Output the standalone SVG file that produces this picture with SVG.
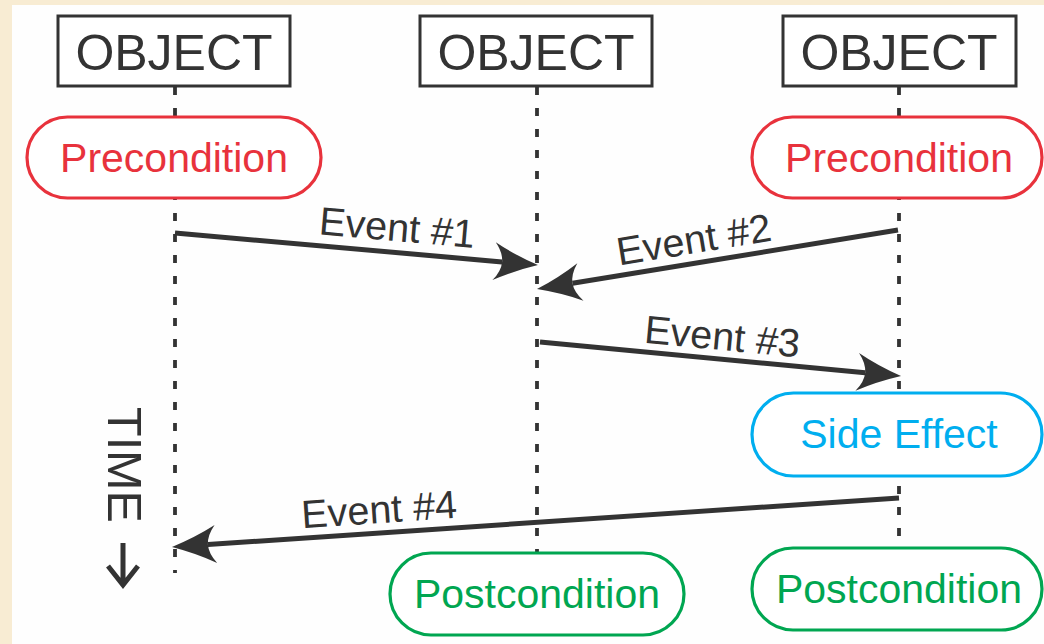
<svg xmlns="http://www.w3.org/2000/svg" width="1044" height="644" viewBox="0 0 1044 644">
  <defs>
    <style>
      .obj rect { fill: #ffffff; stroke: #333333; stroke-width: 3; }
      .obj text { font-family: "Liberation Sans", Arial, sans-serif; font-size: 50px; fill: #333333; text-anchor: middle; }
      .pill rect { fill: #ffffff; stroke-width: 3.2; }
      .pill text { font-family: "Liberation Sans", Arial, sans-serif; font-size: 41px; text-anchor: middle; }
      .pre rect { stroke: #e8323c; }
      .pre text { fill: #e8323c; }
      .side rect { stroke: #00aeef; }
      .side text { fill: #00aeef; }
      .post rect { stroke: #00a651; }
      .post text { fill: #00a651; }
      .life { stroke: #333333; stroke-width: 3.8; stroke-dasharray: 8 13; fill: none; }
      .msg { stroke: #333333; stroke-width: 5; fill: none; marker-end: url(#head); }
      .lbl { font-family: "Liberation Sans", Arial, sans-serif; font-size: 39.5px; fill: #333333; text-anchor: middle; }
    </style>
    <marker id="head" markerUnits="userSpaceOnUse" refX="0" refY="0" orient="auto" overflow="visible">
      <path d="M36,0 Q12,-8 -8,-19 Q0,-9 0,0 Q0,9 -8,19 Q12,8 36,0 Z" fill="#333333"/>
    </marker>
  </defs>

  <!-- paper and panel -->
  <rect x="0" y="0" width="1044" height="644" fill="#f8ecd3"/>
  <rect x="12" y="5" width="1032" height="639" fill="#fefefe"/>

  <!-- lifelines -->
  <g id="lifelines">
    <line class="life" x1="175" y1="87" x2="175" y2="573"/>
    <line class="life" x1="537" y1="87" x2="537" y2="553"/>
    <line class="life" x1="899" y1="87" x2="899" y2="548"/>
  </g>

  <!-- objects -->
  <g id="object-left" class="obj">
    <rect x="58" y="16" width="232" height="70"/>
    <text x="174" y="70">OBJECT</text>
  </g>
  <g id="object-middle" class="obj">
    <rect x="420" y="16" width="232" height="70"/>
    <text x="536" y="70">OBJECT</text>
  </g>
  <g id="object-right" class="obj">
    <rect x="783" y="16" width="233" height="70"/>
    <text x="899" y="70">OBJECT</text>
  </g>

  <!-- states on the lifelines -->
  <g id="precondition-left" class="pill pre">
    <rect x="27" y="117" width="294" height="81" rx="40.5"/>
    <text x="174" y="172">Precondition</text>
  </g>
  <g id="precondition-right" class="pill pre">
    <rect x="752" y="117" width="290" height="81" rx="40.5"/>
    <text x="899" y="172">Precondition</text>
  </g>
  <g id="side-effect" class="pill side">
    <rect x="752" y="393" width="290" height="83" rx="41.5"/>
    <text x="899" y="448">Side Effect</text>
  </g>
  <g id="postcondition-middle" class="pill post">
    <rect x="390" y="553" width="294" height="82" rx="41"/>
    <text x="537" y="608">Postcondition</text>
  </g>
  <g id="postcondition-right" class="pill post">
    <rect x="752" y="548" width="290" height="82" rx="41"/>
    <text x="899" y="603">Postcondition</text>
  </g>

  <!-- messages -->
  <g id="connectors">
    <line class="msg" x1="175" y1="233" x2="502.1" y2="261.9"/>
    <line class="msg" x1="898" y1="230" x2="572.5" y2="283.3"/>
    <line class="msg" x1="540" y1="342" x2="865.2" y2="372.7"/>
    <line class="msg" x1="899" y1="498" x2="207.9" y2="544.6"/>
    <text class="lbl" transform="translate(396,241) rotate(5)">Event #1</text>
    <text class="lbl" transform="translate(696,253) rotate(-9.3)">Event #2</text>
    <text class="lbl" transform="translate(721,350) rotate(5.4)">Event #3</text>
    <text class="lbl" transform="translate(380,523) rotate(-3.9)">Event #4</text>
  </g>

  <!-- time axis -->
  <g id="time">
    <text transform="translate(108,407) rotate(90)" font-family="Liberation Sans, Arial, sans-serif" font-size="48.5" fill="#333333">TIME</text>
    <path d="M123,543 V584 M108,566 L123,585 L138,566" fill="none" stroke="#333333" stroke-width="5" stroke-linejoin="miter"/>
  </g>
</svg>
